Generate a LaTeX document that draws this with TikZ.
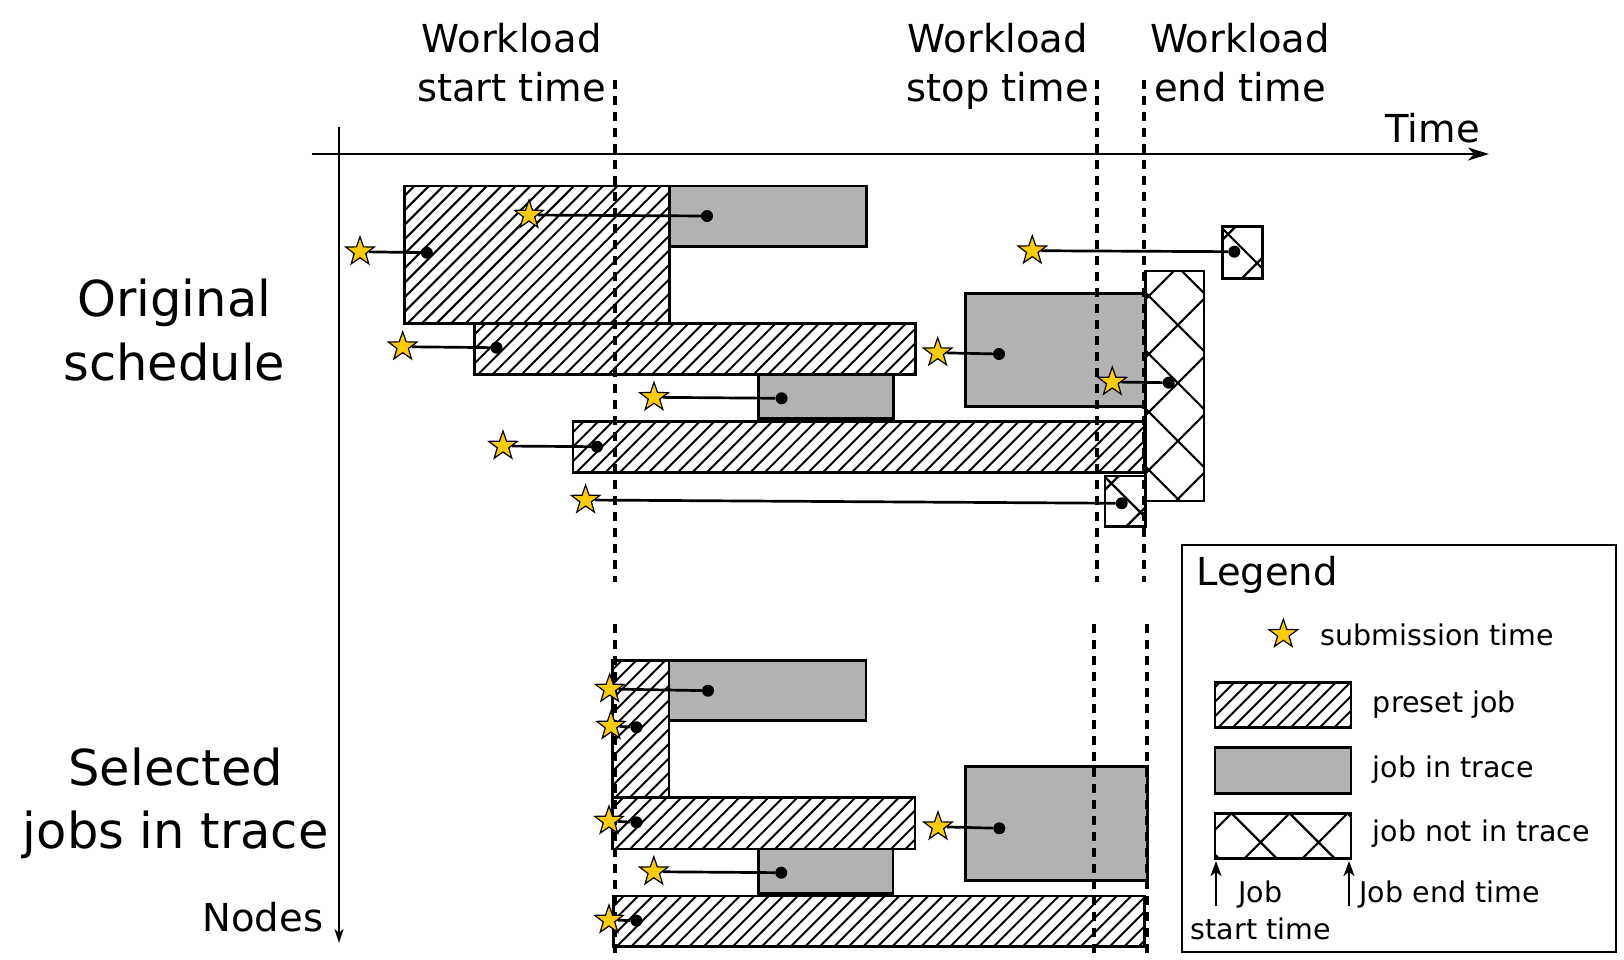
\documentclass[tikz,border=0pt]{standalone}
\usepackage{fontspec}
\setmainfont{DejaVu Sans}
\usetikzlibrary{shapes.geometric,arrows.meta,fit}

\definecolor{jobgray}{RGB}{178,178,178}
\definecolor{subyellow}{RGB}{255,204,0}

\newcommand\lblhuge{\fontsize{49.5pt}{63.3pt}\selectfont}
\newcommand\lblmid{\fontsize{38.5pt}{49.5pt}\selectfont}
\newcommand\lblsmall{\fontsize{28.5pt}{36pt}\selectfont}

\tikzset{
  cross a/.store in=\crossa, cross a=0,
  cross b/.store in=\crossb, cross b=0,
  % preset job: diagonal hatching
  preset/.style={draw, line width=2.7pt, fill=white, inner sep=0pt, path picture={
      \foreach \i in {-200,-185.5,...,600}
        \draw[line width=2pt] ([xshift=\i pt]path picture bounding box.south west) -- ++(360,-360);
    }},
  % job in trace: plain grey
  tracejob/.style={draw, line width=2.7pt, fill=jobgray, inner sep=0pt},
  % job not in trace: crossed diagonals
  extjob/.style={draw, line width=2.7pt, fill=white, inner sep=0pt, path picture={
      \foreach \k in {-6,...,6} {
        \draw[line width=2.2pt] ([xshift={(\k*58+\crossa)*1pt}]path picture bounding box.center) ++(-300,-300) -- ++(600,600);
        \draw[line width=2.2pt] ([xshift={(\k*58+\crossb)*1pt}]path picture bounding box.center) ++(-300,300) -- ++(600,-600);
      }
    }},
  submit/.style={star, star points=5, star point ratio=2.5, minimum size=30pt, inner sep=0pt,
    draw=black, line width=1.2pt, fill=subyellow},
  dot/.style={circle, fill=black, inner sep=0pt, minimum size=12pt},
  link/.style={line width=2.7pt},
  marker/.style={line width=4pt, dash pattern=on 9pt off 7pt},
  axisline/.style={line width=2.2pt},
  lbl/.style={inner sep=0pt},
  legendarrow/.style={line width=2.2pt, -{Stealth[length=15pt,width=11pt,inset=4pt]}},
}

\begin{document}
\begin{tikzpicture}[x=1pt,y=-1pt]
\useasboundingbox (0,0) rectangle (1624,959);

% ---------- axes ----------
\coordinate (t-from) at (311.5,154);
\coordinate (t-to) at (1489,154);
\coordinate (n-from) at (339,126.7);
\coordinate (n-to) at (339,943);
\draw[axisline,-{Stealth[length=21pt,width=13pt,inset=6pt]}] (t-from) -- (t-to);
\draw[axisline,-{Stealth[length=14pt,width=9pt,inset=4pt]}] (n-from) -- (n-to);

% ---------- labels (anchored on the baseline of their last line) ----------
\node[lbl, font=\lblmid, align=center, anchor=base] (l-start) at (511.5,101.7) {Workload\\start time};
\node[lbl, font=\lblmid, align=center, anchor=base] (l-stop) at (997.7,101.7) {Workload\\stop time};
\node[lbl, font=\lblmid, align=center, anchor=base] (l-end) at (1240,101.7) {Workload\\end time};
\node[lbl, font=\lblmid, anchor=base east] (l-time) at (1480,142.4) {Time};
\node[lbl, font=\lblmid, anchor=base east] (l-nodes) at (323.3,931) {Nodes};
\node[lbl, font=\lblhuge, align=center, anchor=base] (l-orig) at (174.3,380) {Original\\schedule};
\node[lbl, font=\lblhuge, align=center, anchor=base] (l-sel) at (175.8,848.3) {Selected\\jobs in trace};

% ---------- original schedule ----------
\node[preset, fit={(404.6,186) (669.5,323.3)}] (p1) {};
\node[tracejob, fit={(669.5,186) (866.5,246.7)}] (g1) {};
\node[preset, fit={(474.7,323.3) (915.5,374.7)}] (p2) {};
\node[tracejob, fit={(758.6,374.7) (893.3,418.7)}] (g2) {};
\node[preset, fit={(573,421.7) (1144.3,472.7)}] (p3) {};
\node[tracejob, fit={(965.7,293.3) (1145.7,406.7)}] (g3) {};
\node[extjob, cross a=6, cross b=0, fit={(1145.7,271) (1204,501)}] (x1) {};
\node[extjob, cross a=4, cross b=25, fit={(1222.3,226.7) (1262.7,278.7)}] (x2) {};
\node[extjob, cross a=4, cross b=26, fit={(1105,476) (1145.7,526.7)}] (x3) {};

% ---------- selected jobs ----------
\node[preset, fit={(612.4,660.7) (669,797.3)}] (q1) {};
\node[tracejob, fit={(669,660.7) (866,720.7)}] (h1) {};
\node[preset, fit={(612.4,797.3) (915,849)}] (q2) {};
\node[tracejob, fit={(758.2,849) (893,893.3)}] (h2) {};
\node[tracejob, fit={(965.7,766.7) (1147.4,880.7)}] (h3) {};
\node[preset, fit={(613.6,896) (1144.8,946.7)}] (q3) {};

% ---------- workload time markers ----------
\coordinate (ws-a) at (615,80);     \coordinate (ws-b) at (615,582);
\coordinate (wp-a) at (1097.3,80);  \coordinate (wp-b) at (1097.3,582);
\coordinate (we-a) at (1144.3,80);  \coordinate (we-b) at (1144.3,582);
\coordinate (ws-c) at (615,624);    \coordinate (ws-d) at (615,959);
\coordinate (wp-c) at (1094.3,624); \coordinate (wp-d) at (1094.3,959);
\coordinate (we-c) at (1147.3,624); \coordinate (we-d) at (1147.3,959);
\foreach \a/\b in {ws-a/ws-b, wp-a/wp-b, we-a/we-b, ws-c/ws-d, wp-c/wp-d, we-c/we-d}
  \draw[marker] (\a) -- (\b);

% ---------- submissions (original) ----------
\foreach \n/\sx/\sy/\dx/\dy in {
    1/529/215/707/216,
    2/360/251.7/426.8/252.7,
    3/402.7/346.7/496.5/347.7,
    4/654/397.3/781.6/398.3,
    5/503/446/597/446.7,
    6/585.6/500/1121.7/503.3,
    7/1032.3/250.7/1234.3/251.7,
    8/937.7/352.7/999/354,
    9/1112.3/382/1168.7/382.7} {
  \node[dot] (d\n) at (\dx,\dy) {};
  \node[submit] (s\n) at (\sx,\sy) {};
  \draw[link] (s\n) -- (d\n);
}

% ---------- submissions (selected) ----------
\foreach \n/\sx/\sy/\dx/\dy in {
    1/609.7/689/708/690.7,
    2/611/726/636.5/727.3,
    3/609/821/636.5/822.3,
    4/653.8/871.7/781.2/872.7,
    5/938/826.7/999.3/828.3,
    6/609/920/636.5/920.7} {
  \node[dot] (e\n) at (\dx,\dy) {};
  \node[submit] (t\n) at (\sx,\sy) {};
  \draw[link] (t\n) -- (e\n);
}

% ---------- legend ----------
\node[draw, line width=2.4pt, inner sep=0pt, fit={(1181.7,545) (1616,951.7)}] (legend) {};
\node[lbl, font=\lblmid, anchor=base west] (lg-title) at (1196,585) {Legend};
\node[submit] (lg-star) at (1283.3,634.3) {};
\node[lbl, font=\lblsmall, anchor=base west] (lg-t1) at (1320.7,645) {submission time};
\node[preset, fit={(1215,682.7) (1351,727.7)}] (lg-preset) {};
\node[lbl, font=\lblsmall, anchor=base west] (lg-t2) at (1372.7,712.7) {preset job};
\node[tracejob, fit={(1215,747.7) (1351,793.3)}] (lg-trace) {};
\node[lbl, font=\lblsmall, anchor=base west] (lg-t3) at (1372.7,777) {job in trace};
\node[extjob, cross a=-29, cross b=-16, fit={(1215,813.3) (1351,858.3)}] (lg-ext) {};
\node[lbl, font=\lblsmall, anchor=base west] (lg-t4) at (1372.7,841.7) {job not in trace};
\coordinate (lg-a1) at (1216,906);   \coordinate (lg-a1t) at (1216,861);
\coordinate (lg-a2) at (1349,906);   \coordinate (lg-a2t) at (1349,861);
\draw[legendarrow] (lg-a1) -- (lg-a1t);
\draw[legendarrow] (lg-a2) -- (lg-a2t);
\node[lbl, font=\lblsmall, anchor=base west] (lg-t5) at (1238,902.7) {Job};
\node[lbl, font=\lblsmall, anchor=base west] (lg-t6) at (1190.7,939.3) {start time};
\node[lbl, font=\lblsmall, anchor=base west] (lg-t7) at (1359.3,902.7) {Job end time};
\end{tikzpicture}
\end{document}
